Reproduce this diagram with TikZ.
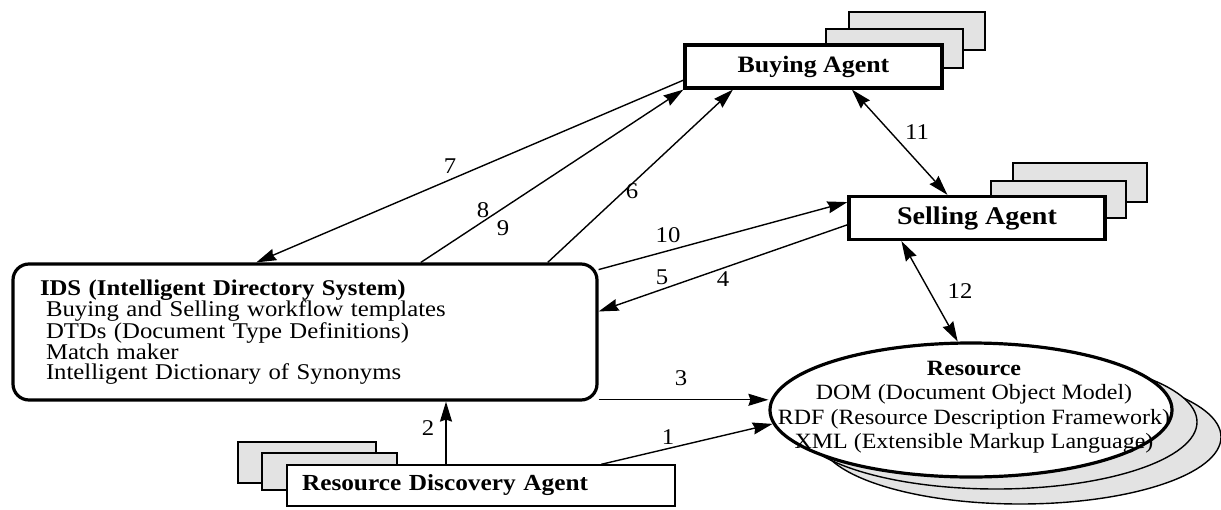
\documentclass[tikz,border=0pt]{standalone}
\usepackage{fontspec}
\setmainfont[FakeStretch=1.1]{Liberation Serif}
\usetikzlibrary{shapes.geometric, arrows.meta}
\tikzset{
  agentbox/.style={draw, line width=3.2pt, fill=white, minimum height=43pt, inner sep=0pt},
  backcard/.style={draw, line width=1.4pt, fill=gray!22},
  link/.style={line width=1.4pt},
  num/.style={font=\fontsize{22.5}{24}\selectfont, inner sep=0pt},
}

\begin{document}
\begin{tikzpicture}[x=1pt, y=-1pt, >={Stealth[length=20pt,width=12pt,inset=2pt]}]
		\useasboundingbox (0,0) rectangle (1221,509);
		% Cards stacked behind the agents
		\draw[backcard] (849,12) rectangle (985,50);
		\draw[backcard] (826,29) rectangle (963,68);
		\draw[backcard] (1013,163) rectangle (1147,202);
		\draw[backcard] (991,181) rectangle (1126,218);
		\draw[backcard] (238,442) rectangle (376,483);
		\draw[backcard] (262,453) rectangle (397,490);
		\draw[backcard] (1020,437) ellipse [x radius=201, y radius=67];
		\draw[backcard] (996,422) ellipse [x radius=201, y radius=67];
		% Agents
		\node[agentbox, minimum width=257pt, font=\bfseries\fontsize{23.5}{24}\selectfont] (buying) at (813.5,66.5) {Buying Agent};
		\node[agentbox, minimum width=256pt, font=\bfseries\fontsize{25.5}{26}\selectfont] (selling) at (977,218) {Selling Agent};
		\node[draw, line width=1.4pt, fill=white, minimum width=388pt, minimum height=41pt, text width=358pt, inner xsep=15pt, inner ysep=0pt, align=left, font=\bfseries\fontsize{23}{24}\selectfont] (rda) at (481,485.5) {Resource Discovery Agent};
		% Directory system
		\node[draw, line width=3.2pt, rounded corners=16pt, fill=white, minimum width=584pt, minimum height=136pt, text width=530pt, inner xsep=27pt, align=left, font=\fontsize{22.5}{20.5}\selectfont] (ids) at (305,332)
			{\textbf{IDS (Intelligent Directory System)}\\
			\hspace*{6pt}Buying and Selling workflow templates\\
			\hspace*{6pt}DTDs (Document Type Definitions)\\
			\hspace*{6pt}Match maker\\
			\hspace*{6pt}Intelligent Dictionary of Synonyms};
		% Resource
		\node[ellipse, draw, line width=3.2pt, fill=white, minimum width=402pt, minimum height=134pt, inner sep=0pt] (resource) at (971,410) {};
		\node[align=center, inner sep=0pt, font=\fontsize{21.8}{24.5}\selectfont] (restext) at (974,407)
			{\textbf{Resource}\\DOM (Document Object Model)\\RDF (Resource Description Framework)\\XML (Extensible Markup Language)};
		% Message flows
		\draw[link,->] (rda.10) -- (resource.184);
		\draw[link,->] ([xshift=-35pt]rda.north) -- ([xshift=-35pt]rda.north |- ids.south);
		\draw[link,->] (ids.347.5) -- (ids.347.5 -| resource.west);
		\draw[link,->] (selling.183) -- (ids.4);
		\draw[link,->] (ids.12) -- (selling.173);
		\draw[link,->] (ids.16) -- (buying.196);
		\draw[link,->] (ids.31) -- (buying.south west);
		\draw[link,->] (buying.186) -- (ids.125);
		\draw[link,<->] (buying.329) -- (selling.142);
		\draw[link,<->] (selling.197) -- (resource.101);
		% Step numbers
		\node[num] (n1) at (668,437) {1};
		\node[num] (n2) at (428,428) {2};
		\node[num] (n3) at (681,378) {3};
		\node[num] (n4) at (723,279) {4};
		\node[num] (n5) at (662,277) {5};
		\node[num] (n6) at (632,191) {6};
		\node[num] (n7) at (450,166) {7};
		\node[num] (n8) at (483,210) {8};
		\node[num] (n9) at (503,228) {9};
		\node[num] (n10) at (668,235) {10};
		\node[num] (n11) at (917,132) {11};
		\node[num] (n12) at (960,291) {12};

	\end{tikzpicture}
\end{document}
